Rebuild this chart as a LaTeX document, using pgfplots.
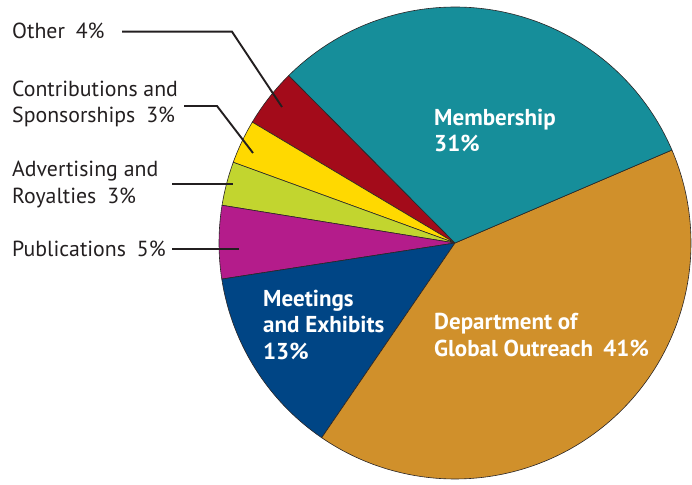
\documentclass[border=0pt]{standalone}
\usepackage{pgfplots}
\pgfplotsset{compat=1.18}
\usepackage{fontspec}
\setmainfont{PT Sans}
\definecolor{cMem}{HTML}{168E9A}
\definecolor{cDept}{HTML}{D0902B}
\definecolor{cMeet}{HTML}{004585}
\definecolor{cPub}{HTML}{B41C8B}
\definecolor{cAdv}{HTML}{C2D52F}
\definecolor{cCon}{HTML}{FFD900}
\definecolor{cOth}{HTML}{A30B1A}
\definecolor{edge}{HTML}{2A2526}
\definecolor{txt}{HTML}{231F20}
\begin{document}
\begin{tikzpicture}
% shares in percent, counterclockwise from the Membership/Other boundary
\pgfmathsetmacro\aA{134.8}
\pgfmathsetmacro\aB{\aA+3.6*4}   % Other 4
\pgfmathsetmacro\aC{\aB+3.6*3}   % Contributions 3
\pgfmathsetmacro\aD{\aC+3.6*3}   % Advertising 3
\pgfmathsetmacro\aE{\aD+3.6*5}   % Publications 5
\pgfmathsetmacro\aF{\aE+3.6*13}  % Meetings 13
\pgfmathsetmacro\aG{\aF+3.6*41}  % Dept 41
\pgfmathsetmacro\aH{\aG+3.6*31}  % Membership 31
\path[use as bounding box] (0,0) rectangle (692pt,484pt);
\begin{axis}[at={(0,0)}, anchor=south west, hide axis, scale only axis,
  width=692pt, height=484pt, xmin=0, xmax=692, ymin=0, ymax=484, clip=false,
  every axis plot/.append style={draw=edge, line width=0.6pt, variable=\t}]
\addplot[fill=cOth, domain=\aA:\aB, samples=30] ({455+236*cos(\t)},{241+236*sin(\t)}) -- (455,241) -- cycle;
\addplot[fill=cCon, domain=\aB:\aC, samples=30] ({455+236*cos(\t)},{241+236*sin(\t)}) -- (455,241) -- cycle;
\addplot[fill=cAdv, domain=\aC:\aD, samples=30] ({455+236*cos(\t)},{241+236*sin(\t)}) -- (455,241) -- cycle;
\addplot[fill=cPub, domain=\aD:\aE, samples=30] ({455+236*cos(\t)},{241+236*sin(\t)}) -- (455,241) -- cycle;
\addplot[fill=cMeet, domain=\aE:\aF, samples=60] ({455+236*cos(\t)},{241+236*sin(\t)}) -- (455,241) -- cycle;
\addplot[fill=cDept, domain=\aF:\aG, samples=150] ({455+236*cos(\t)},{241+236*sin(\t)}) -- (455,241) -- cycle;
\addplot[fill=cMem, domain=\aG:\aH, samples=120] ({455+236*cos(\t)},{241+236*sin(\t)}) -- (455,241) -- cycle;
% leader lines
\addplot[txt, line width=1.9pt] coordinates {(122,452.3) (232,452.3) (282,377)};
\addplot[txt, line width=1.9pt] coordinates {(184,378) (217,378) (253,331)};
\addplot[txt, line width=1.9pt] coordinates {(172,300) (233,300)};
\addplot[txt, line width=1.9pt] coordinates {(172,235) (239,235)};
% outside labels
\begin{scope}[every node/.style={anchor=base west, inner sep=0pt, text=txt, font=\fontsize{21.8}{26}\selectfont}]
\node at (12,445) {Other\hspace{0.5em}4\%};
\node at (12,387) {Contributions and};
\node at (12,361) {Sponsorships\hspace{0.5em}3\%};
\node at (12,307) {Advertising and};
\node at (12,280) {Royalties\hspace{0.5em}3\%};
\node at (12,227) {Publications\hspace{0.5em}5\%};
\end{scope}
\begin{scope}[every node/.style={anchor=base west, inner sep=0pt, text=white, font=\fontsize{23}{27}\selectfont\bfseries}]
\node at (434,358) {Membership};
\node at (434,332) {31\%};
\node at (263,177) {Meetings};
\node at (263,151) {and Exhibits};
\node at (263,124) {13\%};
\node at (434,154) {Department of};
\node at (434,127) {Global Outreach\hspace{0.45em}41\%};
\end{scope}
\end{axis}
\end{tikzpicture}
\end{document}
